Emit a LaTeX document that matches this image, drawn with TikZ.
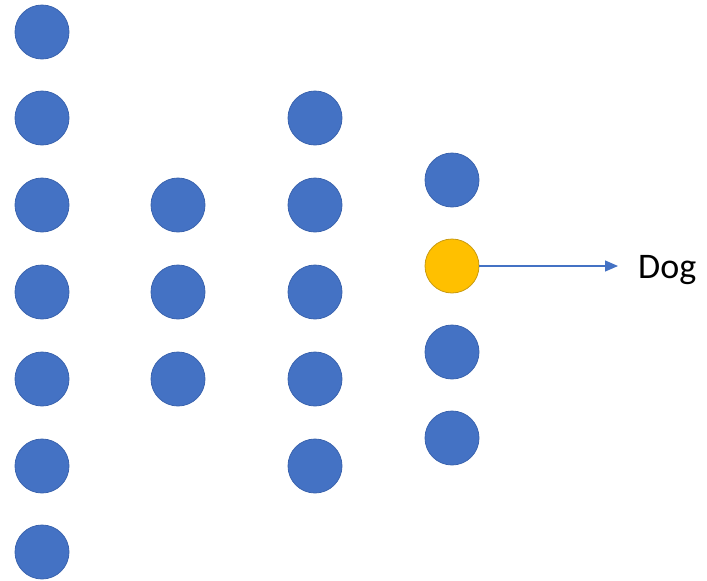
\documentclass[tikz,border=0pt]{standalone}
\usepackage{fontspec}
\setmainfont{Carlito}
\usetikzlibrary{arrows.meta}

\definecolor{unitblue}{HTML}{4472C4}
\definecolor{unitedge}{HTML}{3A63AE}
\definecolor{hotfill}{HTML}{FFC000}
\definecolor{hotedge}{HTML}{C99A10}

\begin{document}
\begin{tikzpicture}[x=1pt,y=-1pt,
    unit/.style={circle, fill=unitblue, draw=unitedge, line width=0.8pt,
      minimum size=54pt, inner sep=0pt},
    hot/.style={unit, fill=hotfill, draw=hotedge},
    outarrow/.style={draw=unitblue, line width=1.2pt,
      -{Triangle[length=13pt,width=11pt]}}]
  \useasboundingbox (0,0) rectangle (707,581);
  % first layer, seven units
  \foreach \y [count=\i] in {32,118,205,292,379,466,552}
    \node[unit] (a\i) at (42,\y) {};
  % second layer
  \foreach \y [count=\i] in {205,292,379}
    \node[unit] (b\i) at (178,\y) {};
  % third layer
  \foreach \y [count=\i] in {118,205,292,379,466}
    \node[unit] (c\i) at (315,\y) {};
  % output layer, the active unit is yellow
  \node[unit] (d1) at (452,180) {};
  \node[hot]  (d2) at (452,266) {};
  \node[unit] (d3) at (452,352) {};
  \node[unit] (d4) at (452,438) {};
  \node[anchor=base west, inner sep=0pt, font=\fontsize{36}{40}\selectfont]
    (label) at (638,278) {Dog};
  \draw[outarrow, shorten >=20pt] (d2) -- (d2 -| label.west);
\end{tikzpicture}
\end{document}
